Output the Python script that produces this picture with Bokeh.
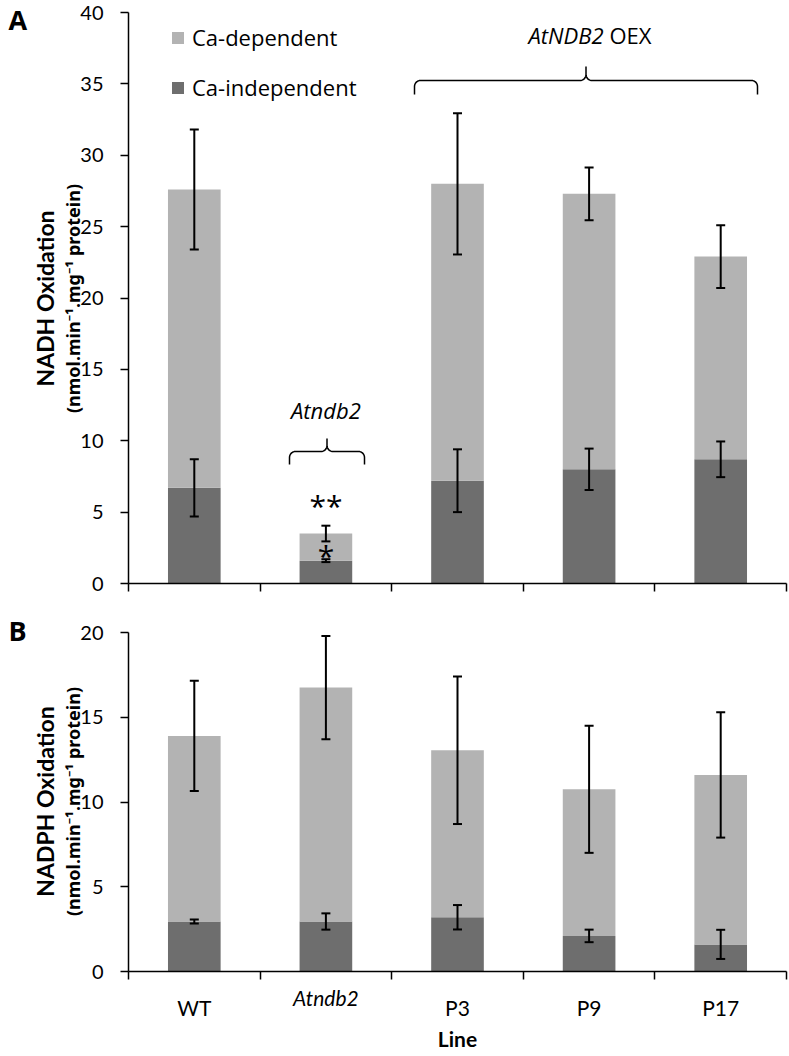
import numpy as np
from bokeh.plotting import figure
from bokeh.models import (ColumnDataSource, Whisker, TeeHead, Label, Legend,
                          LegendItem, FixedTicker, Range1d)
from bokeh.layouts import column
from bokeh.embed import file_html
from bokeh.resources import INLINE

# ---------------- data ----------------
lines = ["WT", "Atndb2", "P3", "P9", "P17"]

nadh_indep = [6.7, 1.6, 7.2, 8.0, 8.7]
nadh_indep_err = [2.0, 0.1, 2.2, 1.45, 1.25]
nadh_dep = [20.9, 1.9, 20.8, 19.3, 14.2]
nadh_total_err = [4.2, 0.55, 4.95, 1.85, 2.2]

nadph_indep = [2.95, 2.95, 3.2, 2.1, 1.6]
nadph_indep_err = [0.12, 0.48, 0.72, 0.37, 0.86]
nadph_dep = [10.95, 13.8, 9.85, 8.65, 10.0]
nadph_total_err = [3.25, 3.05, 4.35, 3.75, 3.7]

yticks_a = [0, 5, 10, 15, 20, 25, 30, 35, 40]
yticks_b = [0, 5, 10, 15, 20]

LIGHT = "#b3b3b3"
DARK = "#6e6e6e"
TICK_FONT = "Lato"
TEXT_FONT = "Open Sans"
UNIT_FONT = "Noto Sans"

FIG_W = 789
AX_X = 128          # page x of the y axis
AX_RIGHT = 786      # page x of the right end of the x axis
NCAT = len(lines)
SX = (AX_RIGHT - AX_X) / NCAT


def px_x(px):
    return (px - AX_X) / SX


def style_axis(ax):
    ax.axis_line_color = "black"
    ax.axis_line_width = 1.5
    ax.major_tick_line_width = 1.5
    ax.major_tick_line_color = "black"
    ax.minor_tick_line_width = 1.5
    ax.minor_tick_line_color = "black"
    ax.fixed_location = 0


def make_panel(indep, dep, indep_err, total_err, yticks, y0, height, top_px, bot_px):
    """Frame covers the whole canvas; axes sit at data 0 via fixed_location."""
    sy = (bot_px - top_px) / yticks[-1]
    xs = [i + 0.5 for i in range(NCAT)]
    total = [a + b for a, b in zip(indep, dep)]
    src = ColumnDataSource(dict(
        x=xs, line=lines, indep=indep, total=total,
        iu=[v + e for v, e in zip(indep, indep_err)],
        il=[v - e for v, e in zip(indep, indep_err)],
        tu=[v + e for v, e in zip(total, total_err)],
        tl=[v - e for v, e in zip(total, total_err)],
    ))
    p = figure(width=FIG_W, height=height, output_backend="svg", toolbar_location=None,
               x_range=Range1d(px_x(0), px_x(FIG_W)),
               y_range=Range1d((bot_px - (y0 + height)) / sy, (bot_px - y0) / sy),
               min_border=0, min_border_left=0, min_border_right=0,
               min_border_top=0, min_border_bottom=0)
    dark = p.vbar(x="x", bottom=0, top="indep", width=0.4, source=src,
                  fill_color=DARK, line_color=None)
    light = p.vbar(x="x", bottom="indep", top="total", width=0.4, source=src,
                   fill_color=LIGHT, line_color=None)
    for up, lo in (("iu", "il"), ("tu", "tl")):
        p.add_layout(Whisker(base="x", upper=up, lower=lo, source=src, line_color="black",
                             line_width=2, level="overlay",
                             upper_head=TeeHead(size=9, line_width=2, line_color="black"),
                             lower_head=TeeHead(size=9, line_width=2, line_color="black")))
    p.xgrid.visible = False
    p.ygrid.visible = False
    p.outline_line_color = None
    p.background_fill_color = "white"
    p.border_fill_color = "white"

    xa = p.xaxis[0]
    style_axis(xa)
    xa.bounds = (0, NCAT)
    xa.major_tick_in = 0
    xa.major_tick_out = 0
    xa.minor_tick_in = 0
    xa.minor_tick_out = 8

    ya = p.yaxis[0]
    style_axis(ya)
    ya.bounds = (0, yticks[-1])
    ya.ticker = FixedTicker(ticks=yticks)
    ya.major_tick_in = 0
    ya.major_tick_out = 8
    ya.minor_tick_line_color = None
    ya.major_label_standoff = 17
    ya.major_label_text_font = TICK_FONT
    ya.major_label_text_font_size = "20px"
    ya.major_label_text_color = "black"
    return p, dark, light, sy


def lab(p, x, y, text, size, style="normal", font=TEXT_FONT, align="center", angle=0.0):
    p.add_layout(Label(x=x, y=y, text=text, text_font=font, text_font_size=f"{size}px",
                       text_font_style=style, text_align=align, text_baseline="middle",
                       angle=angle, text_color="black"))


def brace(p, xl, xr, yh, drop_px, rise_px, r_px, sy):
    rx = r_px / SX
    ry = r_px / sy
    drop = drop_px / sy
    rise = rise_px / sy
    xm = (xl + xr) / 2
    pts_x, pts_y = [xl], [yh - drop]

    def arc(cx, cy, a0, a1):
        t = np.linspace(np.radians(a0), np.radians(a1), 10)
        pts_x.extend(list(cx + rx * np.cos(t)))
        pts_y.extend(list(cy + ry * np.sin(t)))

    arc(xl + rx, yh - ry, 180, 90)
    arc(xm - rx, yh + ry, -90, 0)
    pts_x.append(xm); pts_y.append(yh + rise)
    arc(xm + rx, yh + ry, 180, 270)
    arc(xr - rx, yh - ry, 90, 0)
    pts_x.append(xr); pts_y.append(yh - drop)
    p.line(pts_x, pts_y, line_color="black", line_width=1.5)


UNIT = "(nmol.min\u207b\u00b9.mg\u207b\u00b9 protein)"

# ---------------- panel A ----------------
A_Y0, A_H = 0, 600
A_TOP, A_BOT = 12, 583
pA, darkA, lightA, SYA = make_panel(nadh_indep, nadh_dep, nadh_indep_err, nadh_total_err,
                                    yticks_a, A_Y0, A_H, A_TOP, A_BOT)
pA.xaxis[0].ticker = FixedTicker(ticks=[], minor_ticks=list(range(NCAT + 1)))


def py_a(py):
    return (A_BOT - py) / SYA


legend = Legend(items=[LegendItem(label="Ca-dependent", renderers=[lightA]),
                       LegendItem(label="Ca-independent", renderers=[darkA])],
                location=(170, A_H - 102), glyph_width=15, glyph_height=15,
                label_height=25, spacing=20, padding=0, margin=0,
                border_line_color=None, background_fill_alpha=0,
                label_text_font=TEXT_FONT, label_text_font_size="22px",
                label_standoff=7, label_text_color="black")
pA.add_layout(legend)

lab(pA, px_x(8), py_a(19), "A", 27, "bold", align="left")
lab(pA, px_x(44), py_a(298), "NADH Oxidation", 23, "bold", font=TICK_FONT, angle=np.pi / 2)
lab(pA, px_x(72), py_a(298), UNIT, 18, "bold", font=UNIT_FONT, angle=np.pi / 2)

lab(pA, px_x(603), py_a(34), "AtNDB2", 22, "italic", align="right")
lab(pA, px_x(609), py_a(34), "OEX", 22, align="left")
brace(pA, px_x(414), px_x(757), py_a(80), 14, 14, 6, SYA)

lab(pA, 1.5, py_a(409), "Atndb2", 22, "italic")
brace(pA, px_x(289), px_x(364), py_a(451), 13, 13, 6, SYA)
lab(pA, 1.5, py_a(505), "**", 30)
lab(pA, 1.5, py_a(555), "*", 30)

# ---------------- panel B ----------------
B_Y0, B_H = 600, 456
B_TOP, B_BOT = 632, 971
pB, darkB, lightB, SYB = make_panel(nadph_indep, nadph_dep, nadph_indep_err, nadph_total_err,
                                    yticks_b, B_Y0, B_H, B_TOP, B_BOT)


def py_b(py):
    return (B_BOT - py) / SYB


xb = pB.xaxis[0]
plain = [i for i, n in enumerate(lines) if n != "Atndb2"]
xb.ticker = FixedTicker(ticks=[i + 0.5 for i in plain], minor_ticks=list(range(NCAT + 1)))
xb.major_label_overrides = {i + 0.5: lines[i] for i in plain}
xb.major_label_standoff = 15
xb.major_label_text_font = TICK_FONT
xb.major_label_text_font_size = "21px"
xb.major_label_text_color = "black"

for i, n in enumerate(lines):
    if n == "Atndb2":
        lab(pB, i + 0.5, py_b(997), n, 21, "italic", font=TICK_FONT)
lab(pB, NCAT / 2, py_b(1038), "Line", 21, "bold", font=TICK_FONT)
lab(pB, px_x(8), py_b(630), "B", 27, "bold", align="left")
lab(pB, px_x(44), py_b(801), "NADPH Oxidation", 23, "bold", font=TICK_FONT, angle=np.pi / 2)
lab(pB, px_x(72), py_b(801), UNIT, 18, "bold", font=UNIT_FONT, angle=np.pi / 2)

layout = column(pA, pB, spacing=0)
open("out.html", "w").write(file_html(layout, INLINE))
